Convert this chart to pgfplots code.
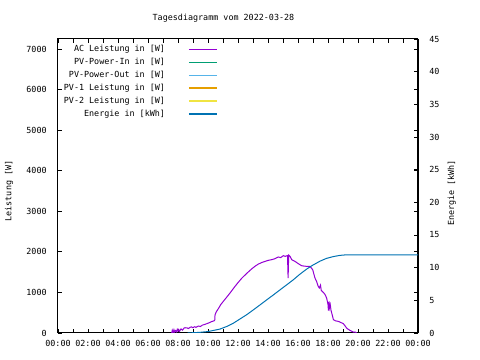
\documentclass[border=0pt]{standalone}
\usepackage{fontspec}
\setmainfont{DejaVu Sans Mono}
\usepackage{pgfplots}
\pgfplotsset{compat=1.18}
\definecolor{cAC}{HTML}{9400D3}
\definecolor{cIn}{HTML}{009E73}
\definecolor{cOut}{HTML}{56B4E9}
\definecolor{cPVa}{HTML}{E69F00}
\definecolor{cPVb}{HTML}{F0E442}
\definecolor{cE}{HTML}{0072B2}
\newcommand{\gf}{\fontsize{6.3}{7}\selectfont}
\begin{document}
\begin{tikzpicture}
\useasboundingbox (0,0) rectangle (360pt,270pt);
\node[font=\gf] at (167.6pt,256.5pt) {Tagesdiagramm vom 2022-03-28};
\node[font=\gf,rotate=90] at (6.75pt,126.75pt) {Leistung [W]};
\node[font=\gf,rotate=90] at (338.8pt,125.25pt) {Energie [kWh]};
\begin{axis}[
  at={(43.5pt,20.25pt)}, anchor=south west,
  scale only axis, width=270pt, height=220.5pt,
  xmin=0, xmax=24, ymin=0, ymax=7250,
  xtick={0,2,...,24},
  xticklabels={00:00,02:00,04:00,06:00,08:00,10:00,12:00,14:00,16:00,18:00,20:00,22:00,00:00},
  minor xtick={1,3,...,23},
  ytick={0,1000,...,7000},
  /pgf/number format/fixed,
  /pgf/number format/1000 sep={},
  scaled y ticks=false,
  /pgf/number format/assume math mode=true,
  tick align=inside,
  major tick length=3pt, minor tick length=3pt,
  xtick pos=both, ytick pos=both,
  tick style={black, line width=0.6pt},
  axis line style={line width=0.75pt},
  ticklabel style={font=\gf},
  xticklabel style={yshift=-1.8pt},
  yticklabel style={xshift=-5pt},
  legend cell align=right,
  legend plot pos=right,
  legend image code/.code={\draw[#1, line width=0.9pt] (0pt,0pt) -- (21pt,0pt);},
  legend style={at={(axis description cs:0.444,0.98)}, anchor=north east,
    draw=none, fill=none, font=\gf, inner sep=0pt, row sep=3.4pt,
    column sep=17.5pt, nodes={inner sep=0pt}},
]
\addplot[cAC, line width=0.75pt] coordinates {
(7.58,0)(7.62,70)(7.68,10)(7.73,80)(7.78,20)(7.83,60)(7.9,30)(7.95,90)(8.0,50)(8.05,85)
(8.1,40)(8.2,100)(8.3,70)(8.4,120)(8.47,130)(8.6,125)(8.7,110)(8.8,140)(8.9,150)(9.0,130)
(9.1,155)(9.2,140)(9.36,172)(9.5,160)(9.6,190)(9.8,214)(10.0,240)(10.24,280)(10.4,300)(10.45,320)
(10.47,450)(10.55,520)(10.69,600)(10.85,700)(11.02,780)(11.13,830)(11.35,930)(11.58,1040)(11.8,1150)(12.02,1250)
(12.25,1350)(12.47,1430)(12.7,1510)(12.91,1580)(13.15,1650)(13.36,1700)(13.6,1740)(13.8,1765)(14.0,1790)(14.24,1808)
(14.45,1830)(14.69,1874)(14.85,1860)(15.02,1906)(15.15,1890)(15.3,1910)(15.34,1356)(15.38,1920)(15.47,1890)(15.58,1808)
(15.8,1766)(16.02,1709)(16.24,1660)(16.4,1650)(16.58,1643)(16.8,1643)(16.98,1561)(17.13,1356)(17.24,1273)(17.3,1200)
(17.35,1150)(17.42,1110)(17.5,1180)(17.55,1050)(17.69,1001)(17.8,950)(17.91,863)(18.0,700)(18.03,550)(18.07,780)
(18.1,620)(18.15,700)(18.2,560)(18.3,420)(18.36,328)(18.5,300)(18.69,286)(18.85,260)(19.02,230)(19.15,170)
(19.24,123)(19.35,90)(19.47,64)(19.6,40)(19.7,20)(19.8,25)(19.91,0)
};
\addlegendentry{AC Leistung in [W]}
\addlegendimage{cIn}
\addlegendentry{PV-Power-In in [W]}
\addlegendimage{cOut}
\addlegendentry{PV-Power-Out in [W]}
\addlegendimage{cPVa}
\addlegendentry{PV-1 Leistung in [W]}
\addlegendimage{cPVb}
\addlegendentry{PV-2 Leistung in [W]}
\addlegendimage{cE}
\addlegendentry{Energie in [kWh]}
\end{axis}
\begin{axis}[
  at={(43.5pt,20.25pt)}, anchor=south west,
  scale only axis, width=270pt, height=220.5pt,
  xmin=0, xmax=24, ymin=0, ymax=45,
  axis x line=none, axis y line*=right,
  ytick={0,5,...,45},
  /pgf/number format/assume math mode=true,
  tick align=inside, major tick length=3pt,
  tick style={black, line width=0.6pt},
  axis line style={line width=0.75pt},
  ticklabel style={font=\gf},
  yticklabel style={xshift=5pt},
]
\addplot[cE, line width=0.75pt] coordinates {
(8.64,0)(9.47,0.1)(10.0,0.22)(10.8,0.6)(11.25,1.0)(11.69,1.5)(12.1,2.1)(12.58,2.8)(13.0,3.5)(13.47,4.3)
(13.9,5.05)(14.36,5.83)(14.8,6.6)(15.25,7.38)(15.69,8.15)(16.1,8.95)(16.58,9.79)(17.0,10.4)(17.47,11.0)(17.9,11.42)
(18.36,11.7)(18.8,11.88)(19.24,11.97)(24.0,11.97)
};
\end{axis}
\end{tikzpicture}
\end{document}
